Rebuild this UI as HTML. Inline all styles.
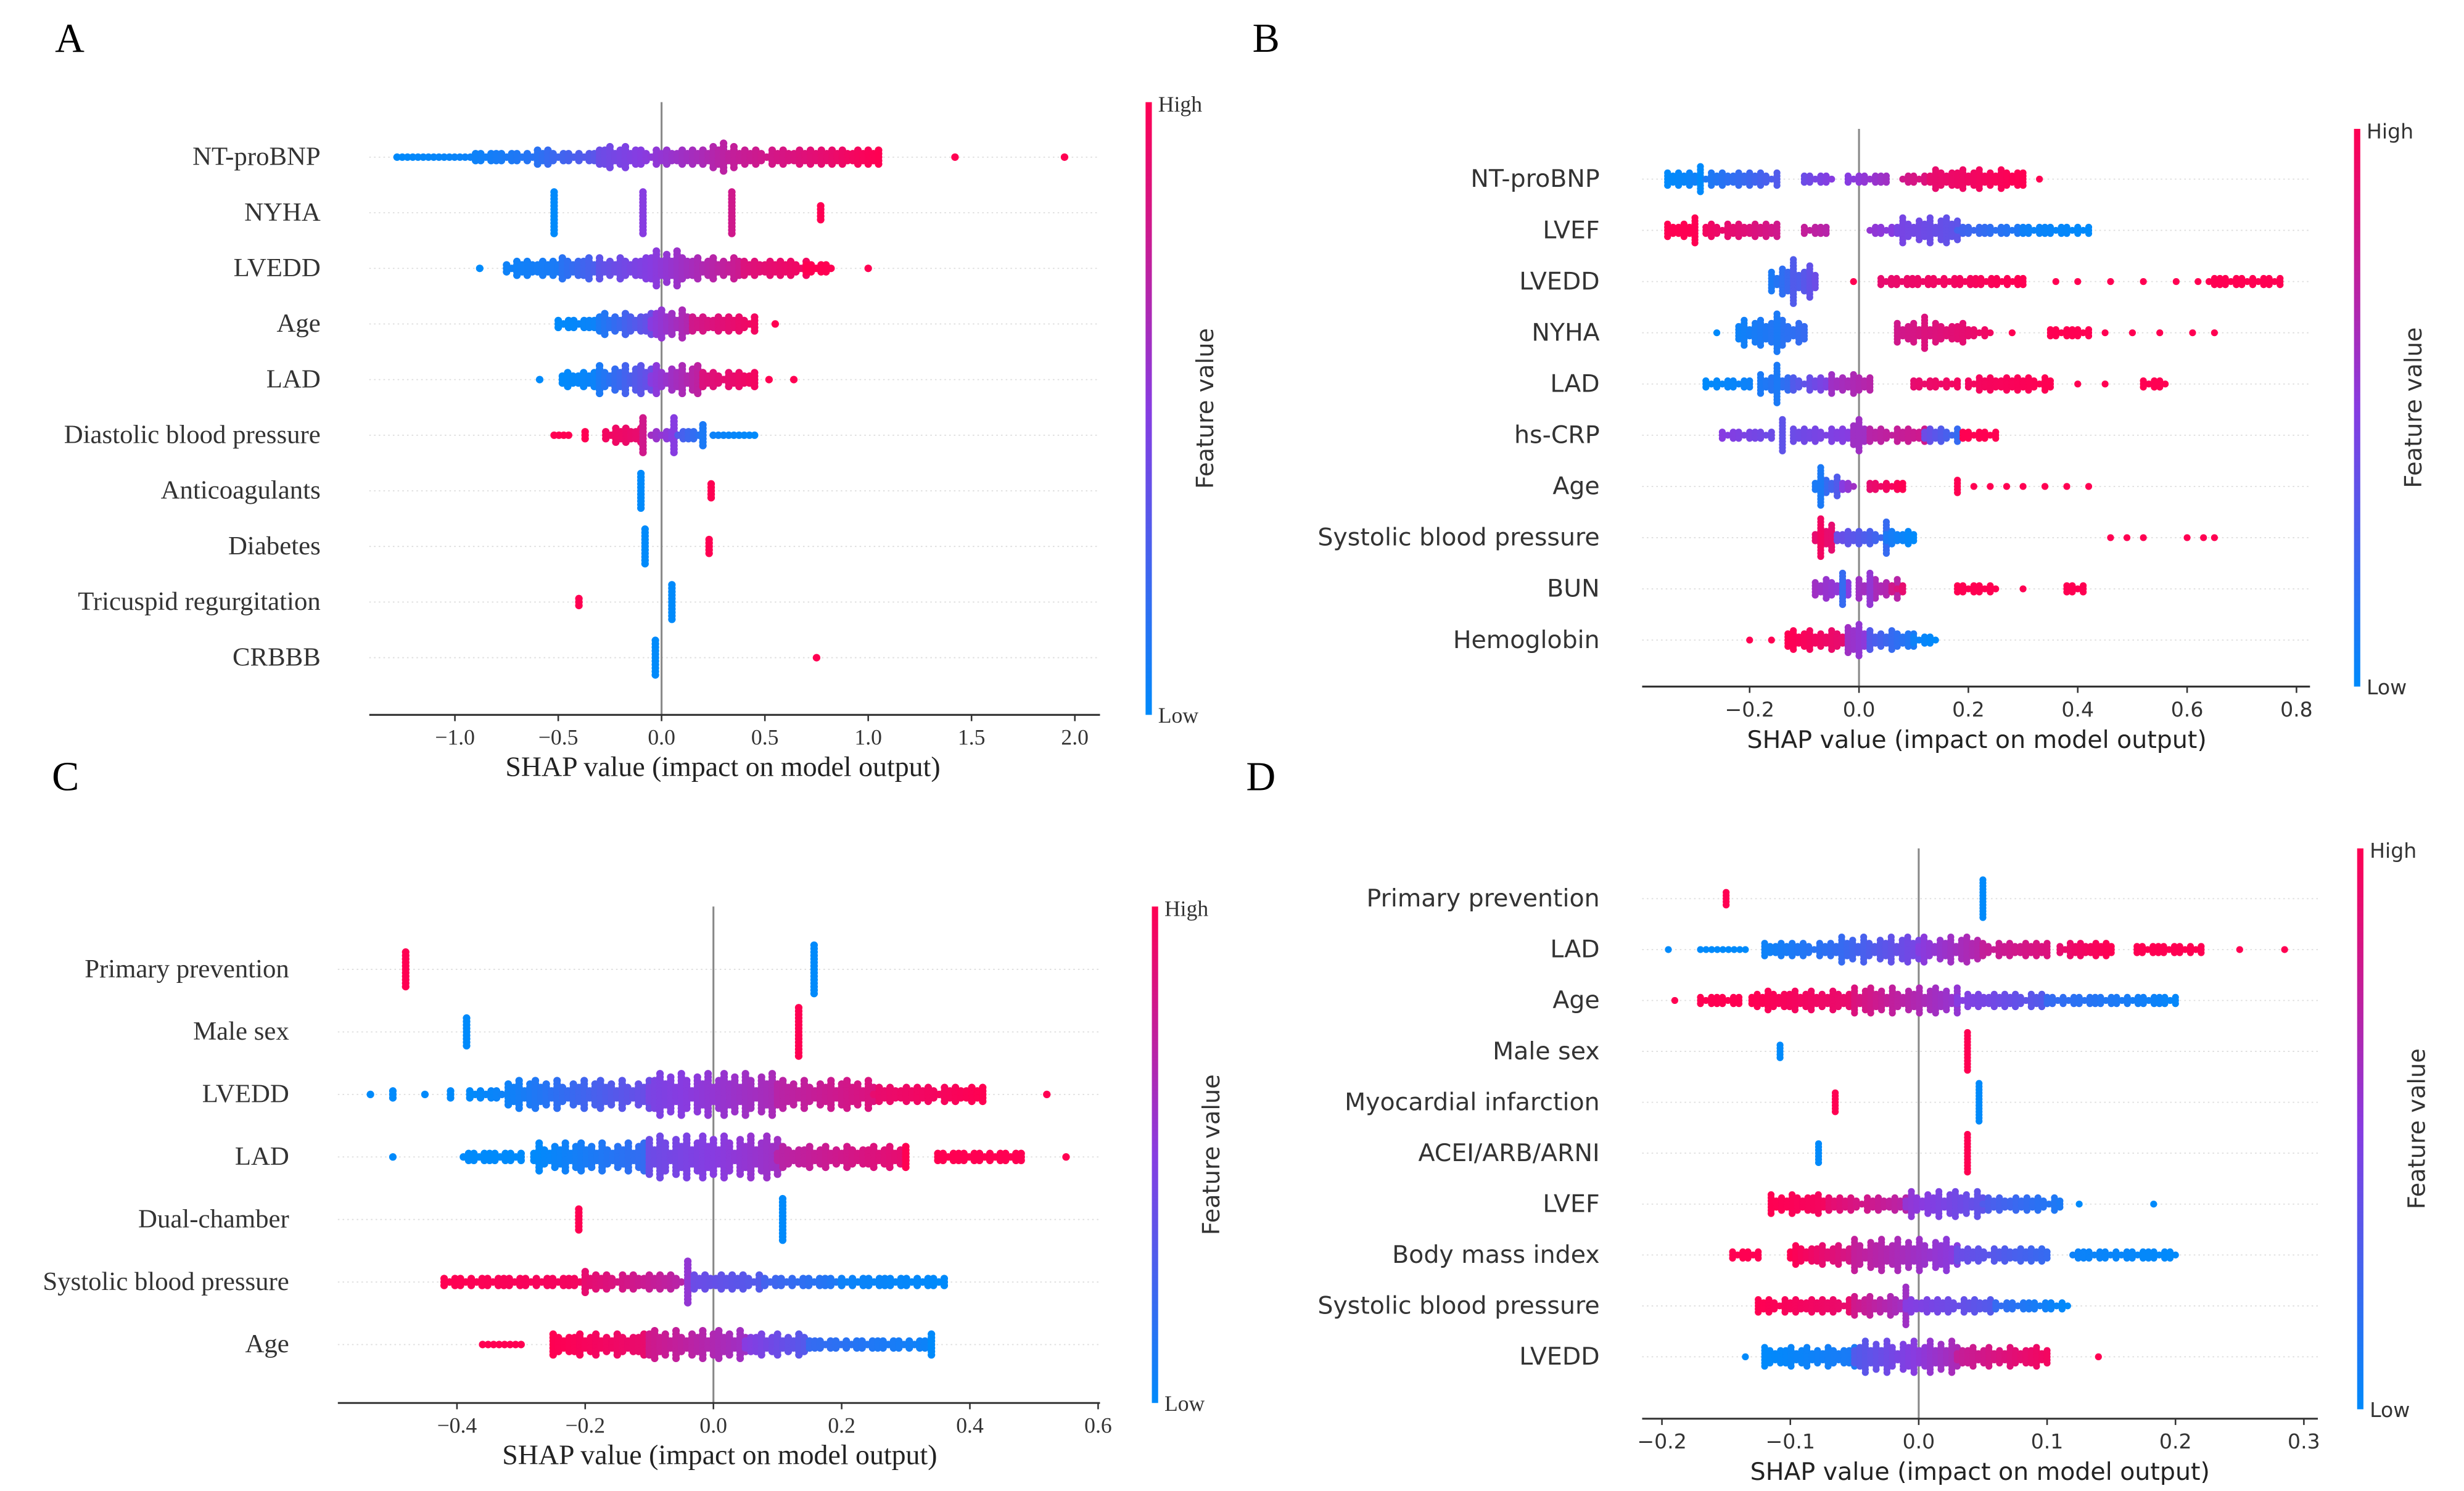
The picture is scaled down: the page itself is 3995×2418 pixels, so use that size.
<!DOCTYPE html>
<html><head><meta charset="utf-8"><style>
html,body{margin:0;padding:0;background:#fff;}
svg{display:block;}
</style></head><body>
<svg id="chart" xmlns="http://www.w3.org/2000/svg" width="3995" height="2418" viewBox="0 0 1568 949">
<rect width="1568" height="949" fill="#fff"/>
<defs>
<linearGradient id="cb" x1="0" y1="1" x2="0" y2="0">
<stop offset="0" stop-color="rgb(0,138,251)"/><stop offset="0.5" stop-color="rgb(135,60,225)"/><stop offset="1" stop-color="rgb(255,0,82)"/>
</linearGradient>
</defs>
<g id="root"></g>
</svg>
<script>
// Panel A data
const aLabels = ["NT-proBNP","NYHA","LVEDD","Age","LAD","Diastolic blood pressure","Anticoagulants","Diabetes","Tricuspid regurgitation","CRBBB"];
const aTicks = [-1.0,-0.5,0.0,0.5,1.0,1.5,2.0];
const aSegs = [
 [[-1.28,-0.9,0,0,0.05],[-0.9,-0.6,1,0.05,0.15],[-0.6,-0.55,3,0.15,0.2],[-0.55,-0.3,1,0.2,0.35],[-0.3,-0.1,3,0.4,0.5],[-0.1,0.2,2,0.5,0.65],[0.2,0.35,4,0.65,0.75],[0.35,0.8,2,0.75,0.9],[0.8,1.05,2,0.9,1],[1.42,1.42,0,1,1],[1.95,1.95,0,1,1]],
 [[-0.52,-0.52,6,0,0],[-0.09,-0.09,6,0.5,0.5],[0.34,0.34,6,0.8,0.8],[0.77,0.77,2,1,1]],
 [[-0.88,-0.88,0,0,0],[-0.75,-0.5,2,0.05,0.1],[-0.48,-0.3,3,0.15,0.3],[-0.3,-0.05,3,0.35,0.5],[-0.05,0.1,5,0.5,0.6],[0.1,0.4,3,0.6,0.8],[0.4,0.7,2,0.85,0.95],[0.7,0.82,1,1,1],[1.0,1.0,0,1,1]],
 [[-0.5,-0.3,1,0,0.05],[-0.3,-0.05,3,0.1,0.4],[-0.05,0.15,4,0.5,0.7],[0.15,0.45,2,0.8,0.95],[0.55,0.55,0,1,1]],
 [[-0.59,-0.59,0,0,0],[-0.48,-0.3,2,0,0.05],[-0.3,-0.05,4,0.1,0.4],[-0.05,0.2,4,0.5,0.75],[0.2,0.45,2,0.85,0.95],[0.52,0.52,0,1,1],[0.64,0.64,0,1,1]],
 [[-0.52,-0.45,0,1,1],[-0.37,-0.37,1,1,1],[-0.27,-0.1,2,0.95,0.9],[-0.09,-0.09,5,0.8,0.8],[-0.05,0.05,1,0.6,0.5],[0.06,0.06,5,0.5,0.5],[0.08,0.18,1,0.3,0.15],[0.2,0.2,3,0.1,0.1],[0.25,0.45,0,0.05,0]],
 [[-0.1,-0.1,5,0,0],[0.24,0.24,2,1,1]],
 [[-0.08,-0.08,5,0,0],[0.23,0.23,2,1,1]],
 [[-0.4,-0.4,1,1,1],[0.05,0.05,5,0,0]],
 [[-0.03,-0.03,5,0,0],[0.75,0.75,0,1,1]]
];
// Panel B data
const bLabels = ["NT-proBNP","LVEF","LVEDD","NYHA","LAD","hs-CRP","Age","Systolic blood pressure","BUN","Hemoglobin"];
const bTicks = [-0.2,0.0,0.2,0.4,0.6,0.8];
const bSegs = [
 [[-0.35,-0.3,2,0,0.05],[-0.29,-0.29,4,0,0],[-0.28,-0.15,2,0.1,0.3],[-0.1,-0.05,1,0.4,0.5],[-0.02,0.05,1,0.5,0.6],[0.08,0.12,1,0.8,0.85],[0.13,0.3,3,0.9,1],[0.33,0.33,0,1,1]],
 [[-0.35,-0.3,2,1,1],[-0.3,-0.3,4,1,1],[-0.28,-0.15,2,0.95,0.8],[-0.1,-0.06,1,0.75,0.7],[0.02,0.06,1,0.55,0.5],[0.07,0.18,4,0.45,0.35],[0.18,0.3,1,0.25,0.1],[0.3,0.42,1,0.05,0]],
 [[-0.16,-0.08,5,0.1,0.4],[-0.12,-0.12,7,0.3,0.3],[-0.01,-0.01,0,1,1],[0.04,0.3,1,0.9,1],[0.36,0.36,0,1,1],[0.4,0.4,0,1,1],[0.46,0.46,0,1,1],[0.52,0.52,0,1,1],[0.58,0.58,0,1,1],[0.62,0.62,0,1,1],[0.64,0.77,1,1,1]],
 [[-0.26,-0.26,0,0,0],[-0.22,-0.1,4,0.05,0.2],[-0.15,-0.15,6,0.1,0.1],[0.07,0.2,3,0.8,0.9],[0.12,0.12,5,0.85,0.85],[0.2,0.24,1,0.9,0.95],[0.28,0.28,0,1,1],[0.35,0.42,1,1,1],[0.45,0.45,0,1,1],[0.5,0.5,0,1,1],[0.55,0.55,0,1,1],[0.61,0.61,0,1,1],[0.65,0.65,0,1,1]],
 [[-0.28,-0.2,1,0,0.05],[-0.18,-0.12,3,0.1,0.2],[-0.15,-0.15,6,0.1,0.1],[-0.12,-0.05,2,0.3,0.5],[-0.05,0.02,3,0.6,0.7],[0.1,0.18,1,0.9,0.95],[0.2,0.35,2,0.95,1],[0.4,0.4,0,1,1],[0.45,0.45,0,1,1],[0.52,0.56,1,1,1]],
 [[-0.25,-0.16,1,0.5,0.4],[-0.14,-0.14,5,0.35,0.35],[-0.12,-0.02,2,0.4,0.5],[-0.01,0.01,5,0.6,0.6],[0.02,0.12,2,0.7,0.8],[0.12,0.18,2,0.4,0.2],[0.19,0.25,1,1,1]],
 [[-0.08,-0.04,4,0.1,0.3],[-0.07,-0.07,6,0.1,0.1],[-0.03,-0.01,1,0.5,0.6],[0.02,0.08,1,0.9,1],[0.18,0.18,2,1,1],[0.21,0.21,0,1,1],[0.24,0.24,0,1,1],[0.27,0.27,0,1,1],[0.3,0.3,0,1,1],[0.34,0.34,0,1,1],[0.38,0.38,0,1,1],[0.42,0.42,0,1,1]],
 [[-0.08,-0.05,4,0.9,0.9],[-0.07,-0.07,6,0.95,0.95],[-0.04,0.05,2,0.4,0.2],[0.05,0.05,5,0.2,0.2],[0.05,0.1,2,0.1,0],[0.46,0.46,0,1,1],[0.49,0.49,0,1,1],[0.52,0.52,0,1,1],[0.6,0.6,0,1,1],[0.63,0.63,0,1,1],[0.65,0.65,0,1,1]],
 [[-0.08,-0.02,3,0.6,0.5],[-0.03,-0.03,5,0.2,0.2],[0.0,0.07,3,0.6,0.7],[0.02,0.02,5,0.55,0.55],[0.06,0.08,1,0.8,0.9],[0.18,0.25,1,1,1],[0.3,0.3,0,1,1],[0.38,0.41,1,1,1]],
 [[-0.2,-0.2,0,1,1],[-0.16,-0.16,0,1,1],[-0.13,-0.03,3,1,0.9],[-0.02,0.02,5,0.6,0.5],[0.02,0.1,3,0.3,0.1],[0.1,0.14,1,0.05,0]]
];
// Panel C data
const cLabels = ["Primary prevention","Male sex","LVEDD","LAD","Dual-chamber","Systolic blood pressure","Age"];
const cTicks = [-0.4,-0.2,0.0,0.2,0.4,0.6];
const cSegs = [
 [[-0.48,-0.48,5,1,1],[0.157,0.157,7,0,0]],
 [[-0.385,-0.385,4,0,0],[0.133,0.133,7,1,1]],
 [[-0.535,-0.535,0,0,0],[-0.5,-0.5,1,0,0],[-0.45,-0.45,0,0,0],[-0.41,-0.41,1,0,0],[-0.38,-0.33,1,0,0.05],[-0.32,-0.1,4,0.05,0.4],[-0.1,0.1,6,0.45,0.65],[0.1,0.25,4,0.7,0.85],[0.25,0.42,2,0.9,1],[0.52,0.52,0,1,1]],
 [[-0.5,-0.5,0,0,0],[-0.39,-0.3,1,0,0],[-0.28,-0.1,4,0,0.2],[-0.1,0.1,6,0.4,0.6],[0.1,0.3,3,0.7,0.9],[0.3,0.3,3,1,1],[0.35,0.48,1,1,1],[0.55,0.55,0,1,1]],
 [[-0.21,-0.21,3,1,1],[0.108,0.108,6,0,0]],
 [[-0.42,-0.2,1,1,0.95],[-0.2,-0.2,3,0.9,0.9],[-0.2,-0.05,2,0.9,0.7],[-0.04,-0.04,6,0.55,0.55],[-0.03,0.08,2,0.4,0.3],[0.08,0.2,1,0.25,0.1],[0.2,0.36,1,0.05,0]],
 [[-0.36,-0.3,0,1,1],[-0.25,-0.1,3,1,0.9],[-0.1,0.05,4,0.8,0.6],[0.05,0.15,3,0.5,0.3],[0.15,0.33,1,0.2,0.05],[0.34,0.34,3,0,0]]
];
// Panel D data
const dLabels = ["Primary prevention","LAD","Age","Male sex","Myocardial infarction","ACEI/ARB/ARNI","LVEF","Body mass index","Systolic blood pressure","LVEDD"];
const dTicks = [-0.2,-0.1,0.0,0.1,0.2,0.3];
const dSegs = [
 [[-0.15,-0.15,2,1,1],[0.05,0.05,6,0,0]],
 [[-0.195,-0.195,0,0,0],[-0.17,-0.135,0,0,0],[-0.12,-0.06,2,0.05,0.2],[-0.06,0.0,4,0.2,0.45],[0.0,0.05,4,0.5,0.7],[0.05,0.1,2,0.75,0.85],[0.11,0.15,2,0.9,1],[0.17,0.22,1,1,1],[0.25,0.25,0,1,1],[0.285,0.285,0,1,1]],
 [[-0.19,-0.19,0,1,1],[-0.17,-0.14,1,1,1],[-0.13,-0.05,3,1,0.9],[-0.05,0.03,4,0.85,0.55],[0.03,0.1,2,0.5,0.3],[0.1,0.2,1,0.2,0.02]],
 [[-0.108,-0.108,2,0,0],[0.038,0.038,6,1,1]],
 [[-0.065,-0.065,3,1,1],[0.047,0.047,6,0,0]],
 [[-0.078,-0.078,3,0,0],[0.038,0.038,6,1,1]],
 [[-0.115,-0.07,3,1,0.95],[-0.07,-0.01,2,0.9,0.7],[-0.01,0.05,4,0.55,0.35],[0.05,0.11,2,0.3,0.1],[0.125,0.125,0,0,0],[0.183,0.183,0,0,0]],
 [[-0.145,-0.125,1,1,1],[-0.1,-0.05,3,1,0.8],[-0.05,0.03,5,0.75,0.5],[0.03,0.1,2,0.4,0.2],[0.12,0.2,1,0.05,0]],
 [[-0.125,-0.05,2,1,0.9],[-0.05,-0.01,3,0.8,0.6],[-0.01,-0.01,6,0.6,0.6],[-0.01,0.06,2,0.5,0.3],[0.06,0.116,1,0.2,0]],
 [[-0.135,-0.135,0,0,0],[-0.12,-0.05,3,0,0.1],[-0.05,0.03,5,0.3,0.65],[0.03,0.1,3,0.75,0.95],[0.14,0.14,0,1,1]]
];

const NS = "http://www.w3.org/2000/svg";
const root = document.getElementById('root');
const heightPattern = [1,0.45,0.8,0.3,0.95,0.6,0.2,0.75,0.5,1,0.35,0.65];
function mk(tag, attrs, parent){const e=document.createElementNS(NS,tag);for(const k in attrs)e.setAttribute(k,attrs[k]);(parent||root).appendChild(e);return e;}
function col(c){
  const s=[[0,138,251],[135,60,225],[255,0,82]];
  let a,b,t;
  if(c<0.5){a=s[0];b=s[1];t=c/0.5;}else{a=s[1];b=s[2];t=(c-0.5)/0.5;}
  return `rgb(${Math.round(a[0]+(b[0]-a[0])*t)},${Math.round(a[1]+(b[1]-a[1])*t)},${Math.round(a[2]+(b[2]-a[2])*t)})`;
}
function fmt(v){const s=v.toFixed(1);return v<0?'\u2212'+s.slice(1):s;}

function panel(cfg){
  const g=mk('g',{});
  
  
  const xs=v=>cfg.zero+v*cfg.ppu;
  const ys=i=>cfg.rows[0]+i*cfg.rowStep;
  const letter=mk('text',{x:cfg.letterX,y:cfg.letterY,'font-family':'"Liberation Serif",serif','font-size':26,fill:'#000'},g);
  letter.textContent=cfg.letter;
  
  
  cfg.labels.forEach((lab,i)=>{
    const y=ys(i);
    const gl=mk('line',{x1:cfg.ax0,x2:cfg.ax1,y1:y,y2:y,stroke:'#ddd','stroke-width':0.7,'stroke-dasharray':'1,2'},g);
    
    
    const t=mk('text',{x:cfg.labelX,y:y+5,'text-anchor':'end','font-family':cfg.font,'font-size':cfg.labelSize,fill:'#333'},g);
    t.textContent=lab;
    
    
  });
  const zl=mk('line',{x1:xs(0),x2:xs(0),y1:cfg.zTop,y2:cfg.axisY,stroke:'#888','stroke-width':1.2},g);
  
  
  let pi=0;
  cfg.segs.forEach((segs,i)=>{
    const y0=ys(i);
    segs.forEach(s=>{
      const px0=xs(s[0]),px1=xs(s[1]);
      const w=px1-px0;
      const ncol=Math.max(1,Math.round(w/3.4)+1);
      for(let k=0;k<ncol;k++){
        const t=ncol===1?0:k/(ncol-1);
        const x=px0+w*t;
        const c=col(s[3]+(s[4]-s[3])*t);
        const n= ncol===1 ? s[2] : Math.round(s[2]*heightPattern[(pi++)%heightPattern.length]);
        for(let j=-n;j<=n;j++){
          const d=mk('circle',{cx:x.toFixed(2),cy:(y0+j*cfg.vs).toFixed(2),r:cfg.r,fill:c},g);
          
          
        }
      }
    });
  });
  const ax=mk('line',{x1:cfg.ax0,x2:cfg.ax1,y1:cfg.axisY,y2:cfg.axisY,stroke:'#333','stroke-width':1.2},g);
  
  
  cfg.ticks.forEach(v=>{
    const x=xs(v);
    const tk=mk('line',{x1:x,x2:x,y1:cfg.axisY,y2:cfg.axisY+4,stroke:'#333','stroke-width':1},g);
    
    
    const tl=mk('text',{x:x,y:cfg.axisY+19,'text-anchor':'middle','font-family':cfg.font,'font-size':cfg.tickSize,fill:'#333'},g);
    tl.textContent=fmt(v);
    
    
  });
  const xt=mk('text',{x:cfg.titleX,y:cfg.axisY+39,'text-anchor':'middle','font-family':cfg.font,'font-size':cfg.titleSize,fill:'#222'},g);
  xt.textContent='SHAP value (impact on model output)';
  
  
  const cb=mk('rect',{x:cfg.cbX,y:cfg.cbTop,width:4,height:cfg.cbBot-cfg.cbTop,fill:'url(#cb)'},g);
  
  
  const hi=mk('text',{x:cfg.cbX+8,y:cfg.cbTop+6,'font-family':cfg.font,'font-size':cfg.tickSize,fill:'#333'},g);
  hi.textContent='High';
  
  
  const lo=mk('text',{x:cfg.cbX+8,y:cfg.cbBot+5,'font-family':cfg.font,'font-size':cfg.tickSize,fill:'#333'},g);
  lo.textContent='Low';
  
  
  const cy=(cfg.cbTop+cfg.cbBot)/2;
  const fv=mk('text',{x:cfg.cbX+43,y:cy,'text-anchor':'middle','font-family':'"DejaVu Sans",sans-serif','font-size':15,fill:'#333',transform:`rotate(-90 ${cfg.cbX+43} ${cy})`},g);
  fv.textContent='Feature value';
  
  
}
const serif='"Liberation Serif",serif', sans='"DejaVu Sans",sans-serif';
panel({id:'a',letter:'A',letterX:35,letterY:33,labels:aLabels,segs:aSegs,ticks:aTicks,zero:421,ppu:131.5,rows:[100],rowStep:35.4,
  ax0:235,ax1:700,axisY:455,zTop:65,labelX:204,font:serif,labelSize:16.8,tickSize:14,titleSize:18,titleX:460,cbX:729,cbTop:65,cbBot:455,r:2.4,vs:2.2});
panel({id:'b',letter:'B',letterX:797,letterY:33,labels:bLabels,segs:bSegs,ticks:bTicks,zero:1183,ppu:348,rows:[114],rowStep:32.6,
  ax0:1045,ax1:1470,axisY:437,zTop:82,labelX:1018,font:sans,labelSize:15.5,tickSize:13,titleSize:15.5,titleX:1258,cbX:1498,cbTop:82,cbBot:437,r:2.2,vs:2.0});
panel({id:'c',letter:'C',letterX:33,letterY:503,labels:cLabels,segs:cSegs,ticks:cTicks,zero:454,ppu:408,rows:[617],rowStep:39.8,
  ax0:215,ax1:700,axisY:893,zTop:577,labelX:184,font:serif,labelSize:16.8,tickSize:14,titleSize:18,titleX:458,cbX:733,cbTop:577,cbBot:893,r:2.4,vs:2.2});
panel({id:'d',letter:'D',letterX:793,letterY:503,labels:dLabels,segs:dSegs,ticks:dTicks,zero:1221,ppu:817,rows:[572],rowStep:32.4,
  ax0:1045,ax1:1475,axisY:903,zTop:540,labelX:1018,font:sans,labelSize:15.5,tickSize:13,titleSize:15.5,titleX:1260,cbX:1500,cbTop:540,cbBot:897,r:2.2,vs:2.0});
</script>
</body></html>
